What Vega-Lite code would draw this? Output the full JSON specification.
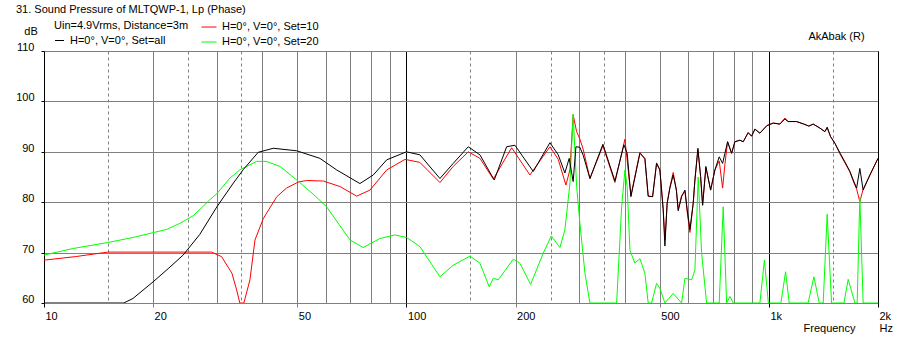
{
  "$schema": "https://vega.github.io/schema/vega-lite/v6.json",
  "width": 834,
  "height": 252,
  "autosize": {"type": "none"},
  "padding": {"left": 44, "top": 51, "right": 22, "bottom": 37},
  "background": "white",
  "config": {"view": {"stroke": null}, "font": "Liberation Sans"},
  "title": {"text": "31. Sound Pressure of MLTQWP-1, Lp (Phase)", "anchor": "start", "frame": "group", "font": "Liberation Sans", "fontSize": 11, "fontWeight": "normal", "color": "black", "dx": -28, "dy": 5, "baseline": "alphabetic", "offset": 0},
  "data": {"values": [
    {"s":"all","f":10,"db":60},{"s":"all","f":16.6,"db":60},{"s":"all","f":17.6,"db":60.9},{"s":"all","f":20,"db":64.2},{"s":"all","f":22,"db":66.8},{"s":"all","f":24.2,"db":69.5},{"s":"all","f":26.9,"db":73.6},{"s":"all","f":30,"db":79.1},{"s":"all","f":33.3,"db":83.8},{"s":"all","f":35.5,"db":86.5},{"s":"all","f":39,"db":89.9},{"s":"all","f":42.9,"db":90.7},{"s":"all","f":49.8,"db":90.2},{"s":"all","f":57.7,"db":88.7},{"s":"all","f":64.2,"db":86.4},{"s":"all","f":74.4,"db":83.7},{"s":"all","f":81,"db":85.4},{"s":"all","f":88.2,"db":88.4},{"s":"all","f":100,"db":90},{"s":"all","f":108.9,"db":89.4},{"s":"all","f":123.7,"db":84.7},{"s":"all","f":134.6,"db":87.7},{"s":"all","f":148.1,"db":91},{"s":"all","f":159.5,"db":89.4},{"s":"all","f":174.7,"db":84.4},{"s":"all","f":189,"db":91},{"s":"all","f":199.2,"db":91.3},{"s":"all","f":223.8,"db":86.1},{"s":"all","f":248.8,"db":91.8},{"s":"all","f":262.3,"db":89.4},{"s":"all","f":273.6,"db":85.8},{"s":"all","f":281.2,"db":88.7},{"s":"all","f":288.4,"db":84.1},{"s":"all","f":293.5,"db":91},{"s":"all","f":301,"db":90.9},{"s":"all","f":307.4,"db":89.3},{"s":"all","f":320.8,"db":84.7},{"s":"all","f":348.4,"db":91.5},{"s":"all","f":376,"db":84.2},{"s":"all","f":398.1,"db":91.4},{"s":"all","f":406.5,"db":89.7},{"s":"all","f":416.2,"db":81.1},{"s":"all","f":440.7,"db":89.7},{"s":"all","f":454.9,"db":88.7},{"s":"all","f":464.5,"db":81.2},{"s":"all","f":477.7,"db":81.1},{"s":"all","f":489.9,"db":87.7},{"s":"all","f":500.3,"db":86.4},{"s":"all","f":510.9,"db":78.5},{"s":"all","f":516.5,"db":71.3},{"s":"all","f":524,"db":79.8},{"s":"all","f":533.2,"db":82.8},{"s":"all","f":544.5,"db":85.4},{"s":"all","f":555.6,"db":82.4},{"s":"all","f":562.1,"db":78.3},{"s":"all","f":574.4,"db":81.1},{"s":"all","f":586.6,"db":82.4},{"s":"all","f":595.2,"db":78.5},{"s":"all","f":605.5,"db":74.6},{"s":"all","f":618.3,"db":79.8},{"s":"all","f":625,"db":84.4},{"s":"all","f":637,"db":90.7},{"s":"all","f":648.1,"db":85.1},{"s":"all","f":656.3,"db":79.4},{"s":"all","f":670.2,"db":87.1},{"s":"all","f":690.6,"db":82.4},{"s":"all","f":709.6,"db":86.4},{"s":"all","f":729.3,"db":89},{"s":"all","f":745.3,"db":87.7},{"s":"all","f":756.2,"db":89.7},{"s":"all","f":769.3,"db":92},{"s":"all","f":789.1,"db":89.7},{"s":"all","f":805.8,"db":92},{"s":"all","f":831.8,"db":92.3},{"s":"all","f":849.4,"db":92},{"s":"all","f":876.8,"db":93.8},{"s":"all","f":896,"db":93.1},{"s":"all","f":915,"db":94.5},{"s":"all","f":944.5,"db":93.7},{"s":"all","f":987.4,"db":95.2},{"s":"all","f":1028,"db":95.7},{"s":"all","f":1072,"db":95.5},{"s":"all","f":1107,"db":96.5},{"s":"all","f":1130,"db":96},{"s":"all","f":1192,"db":96},{"s":"all","f":1249,"db":95.5},{"s":"all","f":1289,"db":95.1},{"s":"all","f":1325,"db":95.5},{"s":"all","f":1383,"db":94.7},{"s":"all","f":1427,"db":94},{"s":"all","f":1448,"db":94.9},{"s":"all","f":1480,"db":93},{"s":"all","f":1521,"db":91.7},{"s":"all","f":1570,"db":89.8},{"s":"all","f":1621,"db":88},{"s":"all","f":1673,"db":86.1},{"s":"all","f":1709,"db":84.4},{"s":"all","f":1746,"db":82.8},{"s":"all","f":1782,"db":86.7},{"s":"all","f":1820,"db":82.4},{"s":"all","f":1900,"db":85.4},{"s":"all","f":2000,"db":88.7},
    {"s":"10","f":10,"db":68.5},{"s":"10","f":12.2,"db":69.2},{"s":"10","f":15,"db":70.1},{"s":"10","f":29,"db":70.1},{"s":"10","f":30.9,"db":69.2},{"s":"10","f":33,"db":65.9},{"s":"10","f":34,"db":62.6},{"s":"10","f":34.7,"db":60},{"s":"10","f":35.6,"db":60},{"s":"10","f":37,"db":64.6},{"s":"10","f":38.2,"db":72.5},{"s":"10","f":40.3,"db":76.8},{"s":"10","f":43.9,"db":81.1},{"s":"10","f":46.7,"db":82.8},{"s":"10","f":50.3,"db":84},{"s":"10","f":53,"db":84.3},{"s":"10","f":59,"db":84.2},{"s":"10","f":65.6,"db":83.1},{"s":"10","f":72.9,"db":81.2},{"s":"10","f":79.3,"db":82.4},{"s":"10","f":88.2,"db":86.4},{"s":"10","f":99.1,"db":88.5},{"s":"10","f":108.9,"db":87.9},{"s":"10","f":123.7,"db":83.9},{"s":"10","f":134.6,"db":87.1},{"s":"10","f":148.1,"db":90},{"s":"10","f":159.5,"db":88.7},{"s":"10","f":173.6,"db":84.6},{"s":"10","f":195.1,"db":90.8},{"s":"10","f":219.1,"db":85.4},{"s":"10","f":248.8,"db":91},{"s":"10","f":262.3,"db":88.5},{"s":"10","f":275.4,"db":83.4},{"s":"10","f":282.5,"db":86.4},{"s":"10","f":288.4,"db":97.3},{"s":"10","f":294.8,"db":94},{"s":"10","f":301,"db":92.5},{"s":"10","f":307.4,"db":90.5},{"s":"10","f":320.8,"db":84.7},{"s":"10","f":348.4,"db":91.2},{"s":"10","f":376,"db":83.9},{"s":"10","f":400.7,"db":92.5},{"s":"10","f":416.2,"db":81.3},{"s":"10","f":440.7,"db":89.9},{"s":"10","f":454.9,"db":88.5},{"s":"10","f":464.5,"db":81.2},{"s":"10","f":477.7,"db":81.1},{"s":"10","f":489.9,"db":87.8},{"s":"10","f":500.3,"db":86.4},{"s":"10","f":510.9,"db":78.8},{"s":"10","f":516.5,"db":72.5},{"s":"10","f":524,"db":79.8},{"s":"10","f":533.2,"db":83},{"s":"10","f":544.5,"db":85.9},{"s":"10","f":555.6,"db":82.4},{"s":"10","f":562.1,"db":78.6},{"s":"10","f":574.4,"db":81.3},{"s":"10","f":586.6,"db":82.2},{"s":"10","f":595.2,"db":78},{"s":"10","f":605.5,"db":74},{"s":"10","f":618.3,"db":79.8},{"s":"10","f":625,"db":84.4},{"s":"10","f":637,"db":90.4},{"s":"10","f":648.1,"db":85.1},{"s":"10","f":656.3,"db":79.4},{"s":"10","f":670.2,"db":86.8},{"s":"10","f":690.6,"db":82.4},{"s":"10","f":709.6,"db":86.4},{"s":"10","f":729.3,"db":88.2},{"s":"10","f":745.3,"db":82.8},{"s":"10","f":756.2,"db":87.5},{"s":"10","f":769.3,"db":92},{"s":"10","f":789.1,"db":89.7},{"s":"10","f":805.8,"db":92},{"s":"10","f":831.8,"db":92.3},{"s":"10","f":849.4,"db":92},{"s":"10","f":876.8,"db":93.8},{"s":"10","f":896,"db":93.1},{"s":"10","f":915,"db":94.5},{"s":"10","f":944.5,"db":93.7},{"s":"10","f":987.4,"db":95.2},{"s":"10","f":1028,"db":95.7},{"s":"10","f":1072,"db":95.5},{"s":"10","f":1107,"db":96.7},{"s":"10","f":1130,"db":96},{"s":"10","f":1192,"db":96},{"s":"10","f":1249,"db":95.5},{"s":"10","f":1289,"db":95.1},{"s":"10","f":1325,"db":95.5},{"s":"10","f":1383,"db":94.7},{"s":"10","f":1427,"db":94},{"s":"10","f":1448,"db":94.7},{"s":"10","f":1480,"db":93},{"s":"10","f":1521,"db":91.7},{"s":"10","f":1570,"db":89.6},{"s":"10","f":1621,"db":87.8},{"s":"10","f":1673,"db":86},{"s":"10","f":1709,"db":84.2},{"s":"10","f":1746,"db":82.6},{"s":"10","f":1782,"db":80.1},{"s":"10","f":1820,"db":82.6},{"s":"10","f":1900,"db":85.4},{"s":"10","f":2000,"db":88.7},
    {"s":"20","f":10,"db":69.5},{"s":"20","f":12,"db":70.8},{"s":"20","f":15,"db":72},{"s":"20","f":17.6,"db":73},{"s":"20","f":21.8,"db":74.6},{"s":"20","f":23.7,"db":75.8},{"s":"20","f":25.8,"db":77.3},{"s":"20","f":28.7,"db":80.5},{"s":"20","f":30,"db":81.7},{"s":"20","f":32.6,"db":84.8},{"s":"20","f":34.7,"db":86.4},{"s":"20","f":38.6,"db":88.1},{"s":"20","f":41,"db":88.1},{"s":"20","f":44.8,"db":87.1},{"s":"20","f":49.8,"db":84.4},{"s":"20","f":55.3,"db":81.6},{"s":"20","f":60.2,"db":79.1},{"s":"20","f":69.9,"db":72.5},{"s":"20","f":76,"db":71},{"s":"20","f":84.5,"db":72.8},{"s":"20","f":93,"db":73.5},{"s":"20","f":100.1,"db":73},{"s":"20","f":108.9,"db":71.2},{"s":"20","f":123.7,"db":65.2},{"s":"20","f":134.6,"db":67.5},{"s":"20","f":149.7,"db":69.3},{"s":"20","f":159.5,"db":67.9},{"s":"20","f":169.2,"db":63.2},{"s":"20","f":173.6,"db":64.9},{"s":"20","f":179.2,"db":64.6},{"s":"20","f":197.1,"db":68.7},{"s":"20","f":205.6,"db":67.9},{"s":"20","f":220.1,"db":63.7},{"s":"20","f":238.5,"db":69.9},{"s":"20","f":251,"db":73.3},{"s":"20","f":265.1,"db":71},{"s":"20","f":273.6,"db":74.5},{"s":"20","f":282.5,"db":83.7},{"s":"20","f":288.4,"db":97.5},{"s":"20","f":294.8,"db":83.1},{"s":"20","f":301,"db":75.8},{"s":"20","f":310.8,"db":65.9},{"s":"20","f":320.8,"db":60},{"s":"20","f":380.1,"db":60},{"s":"20","f":392.4,"db":79.1},{"s":"20","f":400.7,"db":86.4},{"s":"20","f":406.5,"db":83.1},{"s":"20","f":413.6,"db":70.5},{"s":"20","f":426.9,"db":67.9},{"s":"20","f":440.7,"db":68.8},{"s":"20","f":454.9,"db":65.9},{"s":"20","f":464.5,"db":60},{"s":"20","f":474.6,"db":60},{"s":"20","f":489.9,"db":63.9},{"s":"20","f":500.3,"db":62.9},{"s":"20","f":516.5,"db":60},{"s":"20","f":544.5,"db":61.9},{"s":"20","f":574.4,"db":60},{"s":"20","f":586.6,"db":64.9},{"s":"20","f":612.1,"db":64.6},{"s":"20","f":625,"db":66.5},{"s":"20","f":638.3,"db":85},{"s":"20","f":652.1,"db":70},{"s":"20","f":673.1,"db":60},{"s":"20","f":729.3,"db":60},{"s":"20","f":748.1,"db":79.1},{"s":"20","f":764.5,"db":60},{"s":"20","f":780.7,"db":61.3},{"s":"20","f":797.2,"db":60},{"s":"20","f":944.5,"db":60},{"s":"20","f":971.9,"db":68.5},{"s":"20","f":996.8,"db":60},{"s":"20","f":1079,"db":60},{"s":"20","f":1112,"db":66.2},{"s":"20","f":1138,"db":60},{"s":"20","f":1283,"db":60},{"s":"20","f":1331,"db":65.2},{"s":"20","f":1377,"db":60},{"s":"20","f":1412,"db":60},{"s":"20","f":1448,"db":77.6},{"s":"20","f":1489,"db":60},{"s":"20","f":1611,"db":60},{"s":"20","f":1655,"db":64.7},{"s":"20","f":1727,"db":60},{"s":"20","f":1752,"db":60},{"s":"20","f":1782,"db":81},{"s":"20","f":1820,"db":60},{"s":"20","f":2000,"db":60}
  ]},
  "encoding": {
    "x": {"field": "f", "type": "quantitative",
      "scale": {"type": "log", "domain": [10, 2000], "nice": false},
      "axis": {
        "values": [10,15,20,25,30,35,40,50,60,70,80,90,100,150,200,250,300,350,400,500,600,700,800,900,1000,1500,2000],
        "grid": true,
        "gridColor": {"condition": {"test": "indexof([10,100,1000,2000], datum.value) >= 0", "value": "#000000"}, "value": "#808080"},
        "gridDash": {"condition": {"test": "indexof([15,25,35,150,250,350,1500], datum.value) >= 0", "value": [3,3]}, "value": []},
        "gridWidth": 1,
        "domain": false,
        "ticks": true,
        "tickSize": 4,
        "tickColor": {"condition": {"test": "indexof([10,100,1000,2000], datum.value) >= 0", "value": "#000000"}, "value": "#808080"},
        "tickOpacity": {"condition": {"test": "indexof([10,20,50,100,200,500,1000,2000], datum.value) >= 0", "value": 1}, "value": 0},
        "labelExpr": "datum.value == 2000 ? ['2k','Hz'] : datum.value == 1000 ? '1k' : indexof([10,20,50,100,200,500], datum.value) >= 0 ? '' + datum.value : ''",
        "labelAlign": "left", "labelBaseline": "top", "labelPadding": 3, "labelOffset": 1,
        "labelOverlap": false, "labelFlush": false, "labelBound": false,
        "labelFont": "Liberation Sans", "labelFontSize": 11, "labelColor": "black", "labelLineHeight": 12.5,
        "title": "Frequency", "titleX": 785, "titleY": 28, "titleAlign": "center", "titleBaseline": "alphabetic",
        "titleFont": "Liberation Sans", "titleFontSize": 11, "titleFontWeight": "normal", "titleColor": "black"
      }
    }
  },
  "layer": [
    {
      "transform": [{"filter": "datum.s != 'all'"}],
      "mark": {"type": "line", "strokeWidth": 1, "clip": true},
      "encoding": {
        "y": {"field": "db", "type": "quantitative",
          "scale": {"domain": [60, 110], "nice": false, "zero": false},
          "axis": {
            "values": [60,70,80,90,100,110],
            "grid": true, "gridColor": "#808080", "gridWidth": 1,
            "domain": true, "domainColor": "#000000", "domainWidth": 1,
            "ticks": true, "tickColor": "#000000", "tickSize": 3,
            "labelPadding": 7, "labelBaseline": "alphabetic", "labelOffset": -0.5,
            "labelFont": "Liberation Sans", "labelFontSize": 11, "labelColor": "black",
            "title": "dB", "titleAngle": 0, "titleX": -13.5, "titleY": -17, "titleAlign": "center", "titleBaseline": "alphabetic",
            "titleFont": "Liberation Sans", "titleFontSize": 11, "titleFontWeight": "normal", "titleColor": "black"
          }
        },
        "color": {"field": "s", "type": "nominal",
          "scale": {"domain": ["10", "20"], "range": ["#ff0000", "#00ff00"]},
          "legend": {
            "orient": "none", "legendX": 157, "legendY": -32, "title": null, "padding": 0,
            "direction": "vertical",
            "symbolType": "stroke", "symbolSize": 225, "symbolStrokeWidth": 1,
            "labelExpr": "'H=0°, V=0°, Set=' + datum.label",
            "labelFont": "Liberation Sans", "labelFontSize": 11, "labelColor": "black", "labelOffset": 5,
            "rowPadding": 2
          }
        }
      }
    },
    {
      "transform": [{"filter": "datum.s == 'all'"}],
      "mark": {"type": "line", "strokeWidth": 1, "clip": true},
      "encoding": {
        "y": {"field": "db", "type": "quantitative",
          "scale": {"domain": [60, 110], "nice": false, "zero": false},
          "axis": {
            "orient": "right", "grid": false, "ticks": false, "labels": false,
            "domain": true, "domainColor": "#000000", "domainWidth": 1,
            "title": "AkAbak (R)", "titleAngle": 0, "titleX": -42, "titleY": -11.4, "titleAlign": "center", "titleBaseline": "alphabetic",
            "titleFont": "Liberation Sans", "titleFontSize": 11, "titleFontWeight": "normal", "titleColor": "black"
          }
        },
        "color": {"field": "s", "type": "nominal",
          "scale": {"domain": ["all"], "range": ["#000000"]},
          "legend": {
            "orient": "none", "legendX": 10, "legendY": -31, "padding": 0,
            "title": "Uin=4.9Vrms, Distance=3m",
            "titleFont": "Liberation Sans", "titleFontSize": 11, "titleFontWeight": "normal", "titleColor": "black", "titlePadding": 4,
            "symbolType": "stroke", "symbolSize": 81, "symbolStrokeWidth": 1,
            "labelExpr": "'H=0°, V=0°, Set=' + datum.label",
            "labelFont": "Liberation Sans", "labelFontSize": 11, "labelColor": "black", "labelOffset": 5
          }
        }
      }
    }
  ],
  "resolve": {"scale": {"color": "independent"}, "legend": {"color": "independent"}, "axis": {"y": "independent"}}
}
